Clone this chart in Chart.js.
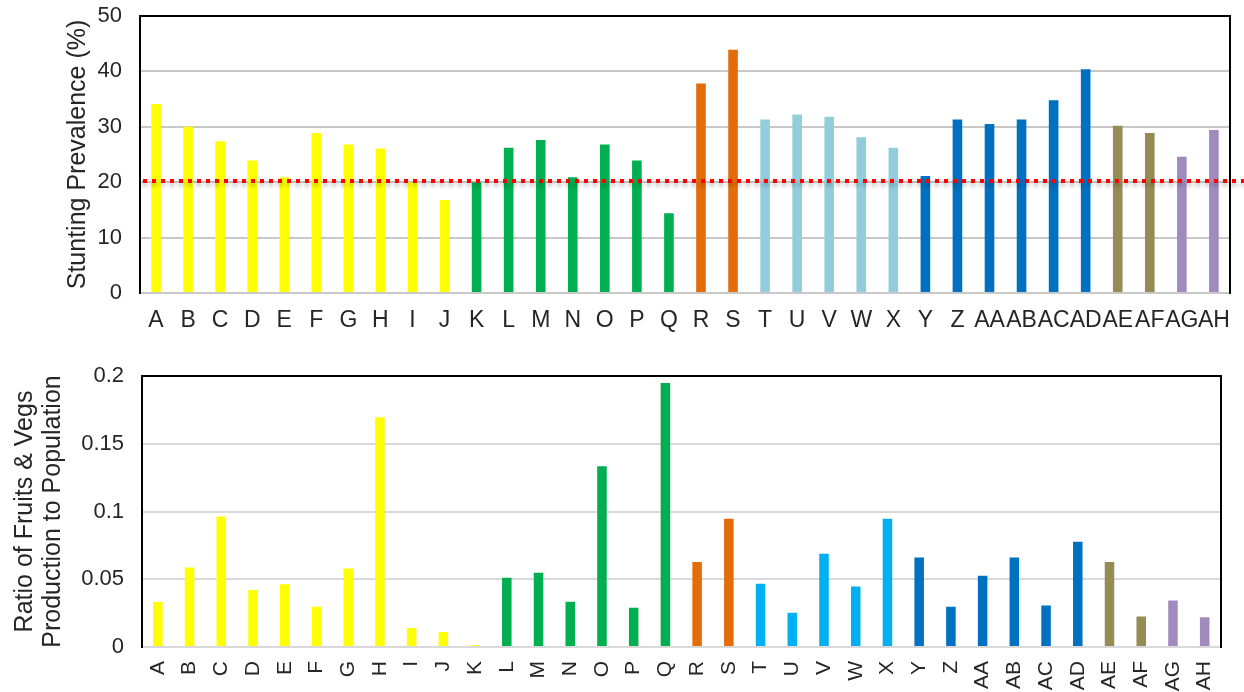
<!DOCTYPE html>
<html>
<head>
<meta charset="utf-8">
<script src="https://cdn.jsdelivr.net/npm/chart.js@4.4.1/dist/chart.umd.min.js"></script>
<style>
  html, body { margin: 0; padding: 0; background: #fff; }
  #wrapTop { position: absolute; left: 0; top: 0; width: 1244px; height: 345px; }
  #wrapBot { position: absolute; left: 0; top: 345px; width: 1244px; height: 347px; }
</style>
</head>
<body>
<div id="wrapTop"><canvas id="top"></canvas></div>
<div id="wrapBot"><canvas id="bot"></canvas></div>
<script>
// ---- data ----
const categories = ["A","B","C","D","E","F","G","H","I","J","K","L","M","N","O","P","Q","R","S","T","U","V","W","X","Y","Z","AA","AB","AC","AD","AE","AF","AG","AH"];
const stuntingValues = [34.1,30.0,27.4,23.9,20.9,28.9,26.8,26.1,20.0,16.8,20.0,26.2,27.6,20.9,26.8,23.9,14.4,37.8,43.9,31.3,32.2,31.8,28.1,26.2,21.1,31.3,30.5,31.3,34.8,40.4,30.2,28.9,24.6,29.4];
const ratioValues = [0.0332,0.0587,0.0963,0.0420,0.0464,0.0297,0.0580,0.1695,0.0140,0.0110,0.0012,0.0511,0.0548,0.0334,0.1334,0.0290,0.1948,0.0627,0.0946,0.0467,0.0253,0.0688,0.0447,0.0946,0.0661,0.0297,0.0526,0.0661,0.0307,0.0776,0.0627,0.0226,0.0344,0.0219];
const stuntingThreshold = 20.2;
const stuntingTicks = [0,10,20,30,40,50];
const ratioTicks = [0,0.05,0.1,0.15,0.2];

// colour groups (category -> group)
const palette = {
  yellow: "#FFFF00", green: "#00B050", orange: "#E46C0A",
  aqua: "#92CDDC", sky: "#00B0F0", blue: "#0070C0",
  olive: "#958B55", purple: "#A18BBD"
};
const stuntingGroups = ["yellow","yellow","yellow","yellow","yellow","yellow","yellow","yellow","yellow","yellow",
  "green","green","green","green","green","green","green","orange","orange",
  "aqua","aqua","aqua","aqua","aqua","blue","blue","blue","blue","blue","blue",
  "olive","olive","purple","purple"];
const ratioGroups = ["yellow","yellow","yellow","yellow","yellow","yellow","yellow","yellow","yellow","yellow","yellow",
  "green","green","green","green","green","green","orange","orange",
  "sky","sky","sky","sky","sky","blue","blue","blue","blue","blue","blue",
  "olive","olive","purple","purple"];

const FONT = "'Liberation Sans', Arial, sans-serif";
const TEXT = "#262626";

const thresholdPlugin = {
  id: 'threshold',
  afterDatasetsDraw(chart, args, opts) {
    if (opts.value === undefined) return;
    const y = chart.scales.y.getPixelForValue(opts.value);
    const ctx = chart.ctx;
    ctx.save();
    ctx.shadowColor = 'rgba(0,0,0,0.35)';
    ctx.shadowBlur = 4;
    ctx.shadowOffsetY = 3;
    ctx.strokeStyle = '#FF0000';
    ctx.lineWidth = 4;
    ctx.setLineDash([4, 5]);
    ctx.beginPath();
    ctx.moveTo(chart.chartArea.left + 3, y);
    ctx.lineTo(chart.width, y);
    ctx.stroke();
    ctx.restore();
  }
};

function makeOptions(cfg) {
  return {
    responsive: true,
    maintainAspectRatio: false,
    animation: false,
    layout: { padding: { top: cfg.padTop, right: 0, left: 0, bottom: 0 } },
    plugins: { legend: { display: false }, tooltip: { enabled: false }, threshold: { value: cfg.threshold } },
    scales: {
      x: {
        grid: { display: false, drawTicks: false },
        border: { display: false },
        ticks: {
          autoSkip: false, maxRotation: cfg.rot, minRotation: cfg.rot,
          color: TEXT, font: { family: FONT, size: cfg.xFont }, padding: cfg.xPad
        },
        afterFit(s) { s.height = cfg.xHeight; }
      },
      y: {
        min: cfg.min, max: cfg.max,
        afterBuildTicks(s) { s.ticks = cfg.ticks.map(v => ({ value: v })); },
        grid: {
          drawTicks: true, tickLength: 18, tickColor: 'rgba(0,0,0,0)', lineWidth: 2,
          color: c => (c.tick && c.tick.value === cfg.max) ? '#000000' : cfg.gridColor
        },
        border: { display: true, color: '#000000', width: 2 },
        ticks: {
          color: TEXT, font: { family: FONT, size: 22 }, padding: 0,
          callback: v => String(v)
        },
        title: {
          display: true, text: cfg.title, color: TEXT,
          font: { family: FONT, size: cfg.titleSize, lineHeight: cfg.titleLH },
          padding: { top: cfg.titlePad, bottom: 0 }
        },
        afterFit(s) { s.width = cfg.yWidth; }
      },
      y2: {
        position: 'right', min: cfg.min, max: cfg.max,
        grid: { drawOnChartArea: false, drawTicks: false },
        border: { display: true, color: '#000000', width: 2 },
        ticks: { display: false },
        afterFit(s) { s.width = 9; }
      }
    }
  };
}

new Chart(document.getElementById('top'), {
  type: 'bar',
  data: {
    labels: categories,
    datasets: [{
      data: stuntingValues,
      backgroundColor: stuntingGroups.map(g => palette[g]),
      barPercentage: 0.3, categoryPercentage: 1.0
    }]
  },
  options: makeOptions({
    padTop: 16, min: 0, max: 50, ticks: stuntingTicks, gridColor: '#C8C8C8',
    title: 'Stunting Prevalence (%)', titleSize: 25, titleLH: 1.2, titlePad: 63,
    yWidth: 140, xHeight: 52, xFont: 23, xPad: 14, rot: 0, threshold: stuntingThreshold
  }),
  plugins: [thresholdPlugin]
});

new Chart(document.getElementById('bot'), {
  type: 'bar',
  data: {
    labels: categories,
    datasets: [{
      data: ratioValues,
      backgroundColor: ratioGroups.map(g => palette[g]),
      barPercentage: 0.3, categoryPercentage: 1.0
    }]
  },
  options: makeOptions({
    padTop: 31, min: 0, max: 0.2, ticks: ratioTicks, gridColor: '#D9D9D9',
    title: ['Ratio of Fruits & Vegs', 'Production to Population'], titleSize: 25, titleLH: 1.12, titlePad: 11,
    yWidth: 142, xHeight: 45, xFont: 21, xPad: 14, rot: 90
  })
});
</script>
</body>
</html>
